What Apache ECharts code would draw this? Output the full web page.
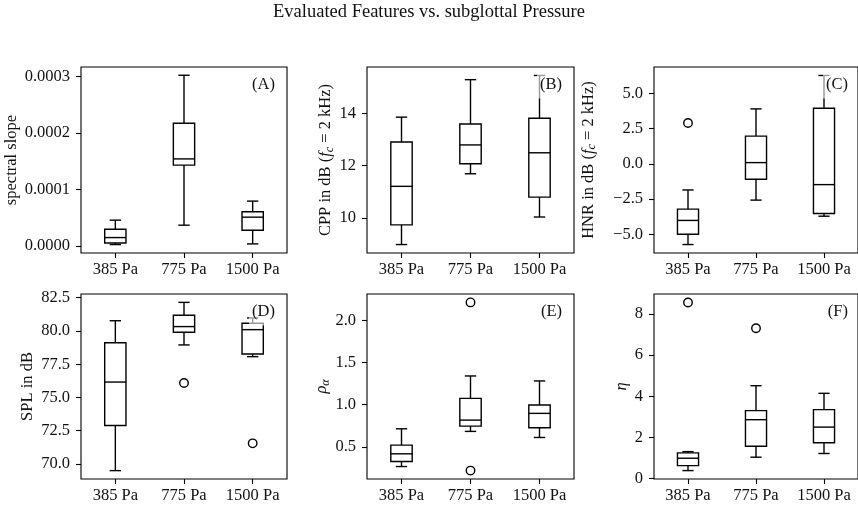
<!DOCTYPE html>
<html><head><meta charset="utf-8">
<script src="https://cdn.jsdelivr.net/npm/echarts@6/dist/echarts.min.js"></script>
<style>html,body{margin:0;padding:0;background:#fff}#c{width:858px;height:508px}</style>
</head><body><div id="c"></div>
<script>
const categories = ['385 Pa', '775 Pa', '1500 Pa'];
// per category: [whisker low, Q1, median, Q3, whisker high]
const slopeBoxes = [[0.0000024, 0.0000053, 0.0000148, 0.0000296, 0.0000456], [0.0000367, 0.000143, 0.000154, 0.000217, 0.000302], [0.0000036, 0.0000278, 0.0000509, 0.0000604, 0.0000793]];
const slopeOutliers = [];
const cppBoxes = [[8.99, 9.74, 11.21, 12.90, 13.85], [11.69, 12.07, 12.79, 13.59, 15.28], [10.04, 10.80, 12.49, 13.81, 15.44]];
const cppOutliers = [];
const hnrBoxes = [[-5.72, -4.99, -4.01, -3.21, -1.85], [-2.57, -1.09, 0.09, 1.97, 3.90], [-3.71, -3.52, -1.47, 3.94, 6.27]];
const hnrOutliers = [[0, 2.90]];
const splBoxes = [[69.50, 72.89, 76.16, 79.12, 80.77], [78.95, 79.90, 80.33, 81.18, 82.15], [78.07, 78.27, 80.10, 80.58, 80.98]];
const splOutliers = [[1, 76.09], [2, 71.55]];
const rhoBoxes = [[0.266, 0.325, 0.417, 0.520, 0.714], [0.683, 0.746, 0.817, 1.075, 1.341], [0.611, 0.726, 0.897, 0.996, 1.282]];
const rhoOutliers = [[1, 2.214], [1, 0.218]];
const etaBoxes = [[0.39, 0.63, 0.99, 1.25, 1.31], [1.04, 1.57, 2.86, 3.30, 4.51], [1.22, 1.74, 2.50, 3.35, 4.14]];
const etaOutliers = [[0, 8.55], [1, 7.30]];

const slopeTicks = [0, 0.0001, 0.0002, 0.0003];
const cppTicks = [10, 12, 14];
const hnrTicks = [-5, -2.5, 0, 2.5, 5];
const splTicks = [70, 72.5, 75, 77.5, 80, 82.5];
const rhoTicks = [0.5, 1.0, 1.5, 2.0];
const etaTicks = [0, 2, 4, 6, 8];

const FONT = '"Liberation Serif", "DejaVu Serif", serif';
const FS = 16.5;
const fmtMinus = d => v => { const s = Math.abs(v).toFixed(d); return v < 0 ? '\u2212' + s : s; };

const panels = [
  { boxes: slopeBoxes, out: slopeOutliers, ticks: slopeTicks, fmt: fmtMinus(4), min: -0.0000125, max: 0.0003166, name: 'spectral slope', gap: 53, grid: { left: 81, top: 67, width: 206, height: 186 }, tag: '(A)' },
  { boxes: cppBoxes, out: cppOutliers, ticks: cppTicks, fmt: fmtMinus(0), min: 8.667, max: 15.763, name: 'CPP in dB ({i|f}{sub|c} = 2 kHz)', gap: 27, grid: { left: 367, top: 67, width: 207, height: 186 }, tag: '(B)' },
  { boxes: hnrBoxes, out: hnrOutliers, ticks: hnrTicks, fmt: fmtMinus(1), min: -6.32, max: 6.87, name: 'HNR in dB ({i|f}{sub|c} = 2 kHz)', gap: 56, grid: { left: 654, top: 67, width: 206, height: 186 }, tag: '(C)' },
  { boxes: splBoxes, out: splOutliers, ticks: splTicks, fmt: fmtMinus(1), min: 68.87, max: 82.78, name: 'SPL in dB', gap: 41, grid: { left: 81, top: 294, width: 206, height: 185 }, tag: '(D)' },
  { boxes: rhoBoxes, out: rhoOutliers, ticks: rhoTicks, fmt: fmtMinus(1), min: 0.118, max: 2.314, name: '{i|\u03C1}{sub|\u03B1}', gap: 32, grid: { left: 367, top: 294, width: 207, height: 185 }, tag: '(E)' },
  { boxes: etaBoxes, out: etaOutliers, ticks: etaTicks, fmt: fmtMinus(0), min: -0.018, max: 8.96, name: '{i|\u03B7}', gap: 22, grid: { left: 654, top: 294, width: 206, height: 185 }, tag: '(F)' }
];

function renderBox(params, api) {
  const i = api.value(0);
  const band = api.size([1, 0])[0];
  const bw = band * 0.31, cw = band * 0.165;
  const x = api.coord([i, api.value(3)])[0];
  const yLo = api.coord([i, api.value(1)])[1];
  const yQ1 = api.coord([i, api.value(2)])[1];
  const yMed = api.coord([i, api.value(3)])[1];
  const yQ3 = api.coord([i, api.value(4)])[1];
  const yHi = api.coord([i, api.value(5)])[1];
  const style = { stroke: '#000', fill: null, lineWidth: 1.4 };
  return {
    type: 'group', children: [
      { type: 'rect', shape: { x: x - bw / 2, y: yQ3, width: bw, height: yQ1 - yQ3 }, style },
      { type: 'line', shape: { x1: x - bw / 2, y1: yMed, x2: x + bw / 2, y2: yMed }, style },
      { type: 'line', shape: { x1: x, y1: yQ1, x2: x, y2: yLo }, style },
      { type: 'line', shape: { x1: x, y1: yQ3, x2: x, y2: yHi }, style },
      { type: 'line', shape: { x1: x - cw / 2, y1: yLo, x2: x + cw / 2, y2: yLo }, style },
      { type: 'line', shape: { x1: x - cw / 2, y1: yHi, x2: x + cw / 2, y2: yHi }, style }
    ]
  };
}

const option = {
  animation: false,
  backgroundColor: '#fff',
  title: { text: 'Evaluated Features vs. subglottal Pressure', left: 'center', top: -2, textStyle: { fontFamily: FONT, fontSize: 18.5, fontWeight: 'normal', color: '#111' } },
  grid: [], xAxis: [], yAxis: [], series: [], graphic: []
};

panels.forEach((p, k) => {
  option.grid.push(Object.assign({ show: true, borderColor: '#000', borderWidth: 1.1, containLabel: false }, p.grid));
  option.xAxis.push({
    type: 'category', gridIndex: k, data: categories, boundaryGap: true,
    axisLine: { show: false, onZero: false },
    axisTick: { show: true, alignWithLabel: true, interval: 0, length: 5, lineStyle: { color: '#000', width: 1.1 } },
    axisLabel: { margin: 8, interval: 0, hideOverlap: false, fontFamily: FONT, fontSize: FS, color: '#111' },
    splitLine: { show: false }
  });
  option.yAxis.push({
    type: 'value', gridIndex: k, min: p.min, max: p.max,
    name: p.name, nameLocation: 'middle', nameGap: p.gap, nameRotate: 90,
    nameTextStyle: {
      fontFamily: FONT, fontSize: FS, color: '#111', lineHeight: 19,
      rich: {
        i: { fontFamily: FONT, fontSize: FS, fontStyle: 'italic', color: '#111', lineHeight: 19 },
        sub: { fontFamily: FONT, fontSize: 12, fontStyle: 'italic', color: '#111', verticalAlign: 'bottom', lineHeight: 13 }
      }
    },
    axisLine: { show: false, onZero: false },
    axisTick: { show: true, length: 5, customValues: p.ticks, lineStyle: { color: '#000', width: 1.1 } },
    axisLabel: { margin: 11, hideOverlap: false, fontFamily: FONT, fontSize: FS, color: '#111', customValues: p.ticks, formatter: p.fmt },
    splitLine: { show: false }
  });
  option.series.push({
    type: 'custom', xAxisIndex: k, yAxisIndex: k, renderItem: renderBox,
    encode: { x: 0, y: [1, 2, 3, 4, 5] },
    data: p.boxes.map((b, i) => [i].concat(b)), z: 2
  });
  option.series.push({
    type: 'scatter', xAxisIndex: k, yAxisIndex: k, data: p.out,
    symbol: 'circle', symbolSize: 8.5,
    itemStyle: { color: 'rgba(255,255,255,0)', borderColor: '#000', borderWidth: 1.4, opacity: 1 }, z: 3
  });
  option.graphic.push({
    type: 'text', z: 100,
    x: p.grid.left + p.grid.width - 9, y: p.grid.top + 18,
    style: { text: p.tag, align: 'right', verticalAlign: 'middle', font: FS + 'px ' + FONT, fill: '#111', backgroundColor: 'rgba(255,255,255,0.6)', padding: [5, 3, 5, 3] }
  });
});

const chart = echarts.init(document.getElementById('c'), null, { renderer: 'canvas' });
chart.setOption(option);
</script></body></html>
